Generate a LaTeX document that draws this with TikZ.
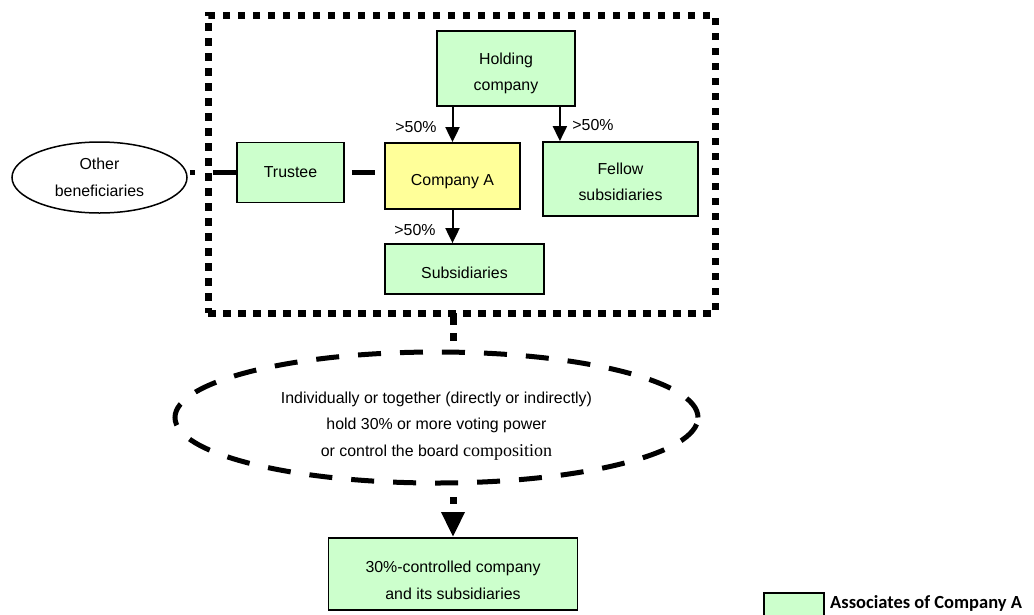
\documentclass[tikz,border=0pt]{standalone}
\usepackage{fontspec}
\setmainfont{Liberation Sans}
\newfontfamily\serifpart{Liberation Serif}
\newfontfamily\legendfont{Carlito}
\usetikzlibrary{arrows.meta,shapes.geometric}

\definecolor{boxgreen}{HTML}{CCFFCC}
\definecolor{boxyellow}{HTML}{FFFF99}

% invisible strut on the first line, to set the text a little lower in its box
\newcommand\txtdown[1]{\rule{0pt}{#1}}

\begin{document}
\begin{tikzpicture}[x=1pt,y=-1pt,
  every node/.style={font=\fontsize{15.9}{26.5}\selectfont, inner sep=0pt, align=center},
  gbox/.style={draw=black, line width=1.8pt, fill=boxgreen},
  ybox/.style={draw=black, line width=1.8pt, fill=boxyellow},
  arr/.style={line width=2pt, -{Triangle[length=15pt,width=14pt]}},
  thickdash/.style={line width=5pt},
  squaredots/.style={line width=7pt}]

\useasboundingbox (0,0) rectangle (1034,614);
\fill[white] (0,0) rectangle (1034,614);

% group of companies under common control
\node[draw, line width=7pt, dash pattern=on 7.5pt off 7.5pt, outer sep=0pt,
      minimum width=507pt, minimum height=298pt] (grp) at (461.5,164) {};

% companies
\node[gbox, minimum width=138pt, minimum height=75pt] (hold) at (506,68.5) {\txtdown{21.6pt}Holding\\company};
\node[ybox, minimum width=135pt, minimum height=66pt] (compa) at (452.5,176) {\txtdown{21.6pt}Company A};
\node[gbox, minimum width=155pt, minimum height=74pt] (fell) at (620.5,179) {\txtdown{17.6pt}Fellow\\subsidiaries};
\node[gbox, minimum width=107pt, minimum height=60pt] (trus) at (290.5,172.5) {Trustee};
\node[gbox, minimum width=159pt, minimum height=50pt] (subs) at (464.5,269) {\txtdown{19.6pt}Subsidiaries};
\node[draw, ellipse, line width=1.5pt, minimum width=175pt, minimum height=71pt] (oth) at (99.5,177.5) {Other\\beneficiaries};

% control condition
\node[draw, ellipse, line width=5pt, dash pattern=on 23pt off 19pt,
      minimum width=523pt, minimum height=131pt] (cond) at (436.5,417.5)
  {\txtdown{28.6pt}Individually or together (directly or indirectly)\\hold 30\% or more voting power\\or control the board {\serifpart\fontsize{18}{26.5}\selectfont composition}};

\node[gbox, minimum width=249pt, minimum height=72pt] (ctl) at (453,574) {\txtdown{24.6pt}30\%-controlled company\\and its subsidiaries};

% shareholdings
\coordinate (hf) at ([xshift=-16pt]hold.south east);
\draw[arr] (compa.north |- hold.south) -- (compa.north);
\draw[arr] (hf) -- (hf |- fell.north);
\draw[arr] (compa.south) -- (compa.south |- subs.north);

\node (l1) at (416,127) {>50\%};
\node (l2) at (593,125) {>50\%};
\node (l3) at (415,230) {>50\%};

% trust links
\draw[thickdash, dash pattern=on 0pt off 7pt on 23pt off 30pt] (trus.east) -- (trus.east -| compa.west);
\draw[thickdash, dash pattern=on 0pt off 2pt on 5pt off 18pt on 60pt] (trus.west -| oth.east) -- (trus.west);

% from group to condition to controlled company
\draw[squaredots, dash pattern=on 12pt off 8pt on 8pt off 30pt] (grp.south -| ctl.north) -- (cond.north -| ctl.north);
\draw[squaredots, dash pattern=on 0pt off 11.5pt on 7pt off 30pt, -{Triangle[length=25pt,width=22pt]}]
  (cond.south -| ctl.north) -- (ctl.north);

% legend
\begin{scope}
  \clip (0,0) rectangle (1034,614);
  \node[gbox, minimum width=60pt, minimum height=30pt] (leg) at (794,608) {};
\end{scope}
\node[anchor=west, font=\legendfont\bfseries\fontsize{18.5}{20}\selectfont] (legt) at (830,603) {Associates of Company A};

\end{tikzpicture}
\end{document}
